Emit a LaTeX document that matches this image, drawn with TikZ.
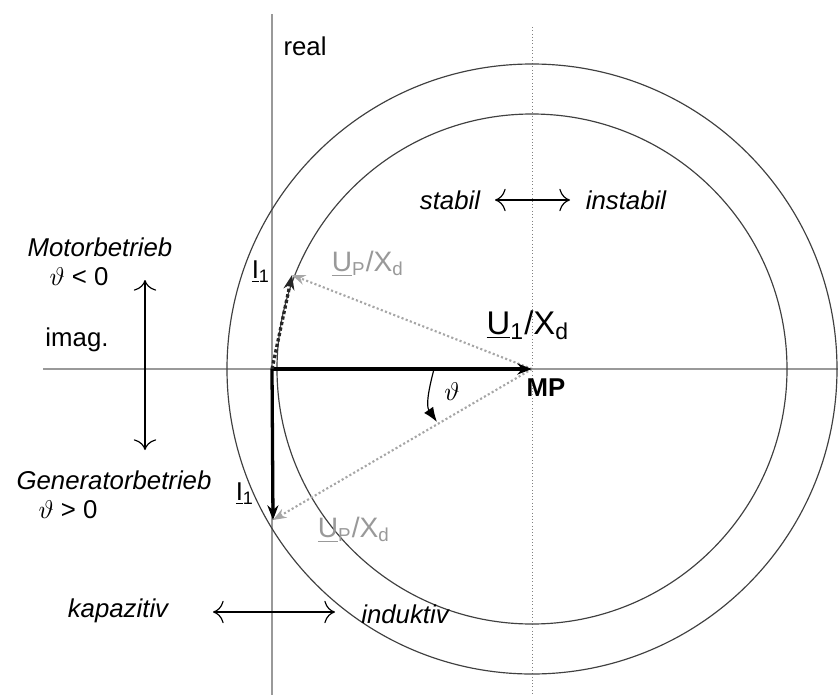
\documentclass[tikz,border=0pt]{standalone}
\usepackage{fontspec}
\setmainfont{Liberation Sans}
\usetikzlibrary{arrows.meta}

\begin{document}
\begin{tikzpicture}[x=0.15mm, y=-0.15mm, font=\fontsize{11}{13}\selectfont,
  axis/.style={gray!80, line width=0.5pt},
  circ/.style={black!75, line width=0.5pt},
  upvec/.style={gray!70, densely dotted, line width=0.9pt, -{Stealth[length=2mm]}},
  ivec/.style={black, line width=1.4pt, -{Stealth[length=2.2mm]}},
  dbl/.style={{To[length=1.6mm]}-{To[length=1.6mm]}, line width=0.5pt},
  uplabel/.style={text=gray!80, font=\fontsize{12}{14}\selectfont}]
  \useasboundingbox (0,0) rectangle (838,695);
  % Points of the diagram
  \coordinate (O) at (272,369);
  \coordinate (MP) at (532,369);
  \coordinate (Pu) at (292,275);
  \coordinate (Pl) at (273,520);
  % Axes and the line through MP
  \coordinate (ax1) at (43,369);
  \coordinate (ax2) at (838,369);
  \coordinate (re1) at (272,14);
  \coordinate (re2) at (272,695);
  \coordinate (mp1) at (532,27);
  \coordinate (mp2) at (532,695);
  \draw[axis] (ax1) -- (ax2);
  \draw[axis] (re1) -- (re2);
  \draw[gray, densely dotted] (mp1) -- (mp2);
  % Circles round MP
  \draw[circ] (MP) circle (305);
  \draw[circ] (MP) circle (255);
  % Vectors
  \draw[upvec] (MP) -- (Pu);
  \draw[upvec] (MP) -- (Pl);
  \draw[ivec] (O) -- (MP);
  \draw[ivec, black!85, densely dotted] (O) -- (Pu);
  \draw[ivec] (O) -- (Pl);
  % Angle
  \coordinate (th1) at (434,369);
  \coordinate (th2) at (437,422);
  \draw[line width=0.5pt, -{Latex[length=2.2mm]}] (th1) .. controls (428,392) and (426,406) .. (th2);
  \node (theta) at (452,392) {$\vartheta$};
  % Labels
  \node (real) at (305,46) {real};
  \node[font=\fontsize{11}{13}\selectfont\itshape] (stabil) at (450,200) {stabil};
  \node[font=\fontsize{11}{13}\selectfont\itshape] (instabil) at (626,200) {instabil};
  \coordinate (st1) at (495,200);
  \coordinate (st2) at (570,200);
  \draw[dbl] (st1) -- (st2);
  \node[font=\fontsize{11}{13}\selectfont\itshape] (motor) at (100,247) {Motorbetrieb};
  \node (tneg) at (79,277) {$\vartheta$ < 0};
  \node (imag) at (77,340) {imag.};
  \node[font=\fontsize{11}{13}\selectfont\itshape] (gen) at (114,480) {Generatorbetrieb};
  \node (tpos) at (68,510) {$\vartheta$ > 0};
  \coordinate (mg1) at (145,280);
  \coordinate (mg2) at (145,450);
  \draw[dbl] (mg1) -- (mg2);
  \node[font=\fontsize{11}{13}\selectfont\itshape] (kap) at (118,611) {kapazitiv};
  \node[font=\fontsize{11}{13}\selectfont\itshape] (ind) at (405,614) {induktiv};
  \coordinate (ki1) at (213,612);
  \coordinate (ki2) at (335,612);
  \draw[dbl] (ki1) -- (ki2);
  % Vector names
  \node[font=\fontsize{14}{16}\selectfont] (u1) at (528,325) {\underline{U}\textsubscript{1}/X\textsubscript{d}};
  \node[font=\fontsize{11}{13}\selectfont\bfseries] (mp) at (546,388) {MP};
  \node[uplabel] (upu) at (368,264) {\underline{U}\textsubscript{P}/X\textsubscript{d}};
  \node[uplabel] (upl) at (354,530) {\underline{U}\textsubscript{P}/X\textsubscript{d}};
  \node (i1u) at (261,272) {\underline{I}\textsubscript{1}};
  \node (i1l) at (245,494) {\underline{I}\textsubscript{1}};
\end{tikzpicture}
\end{document}
